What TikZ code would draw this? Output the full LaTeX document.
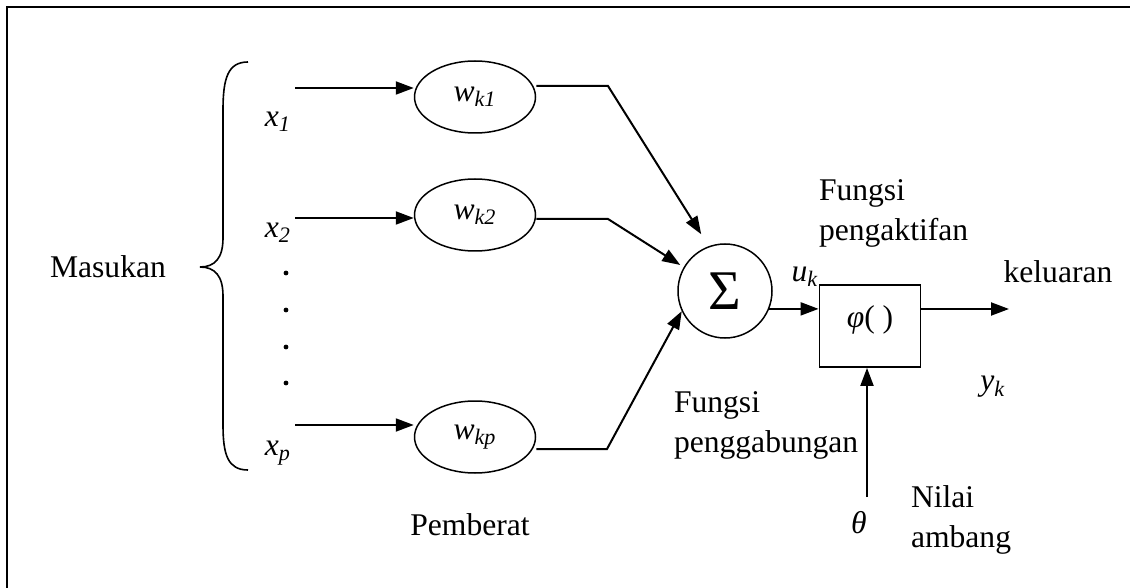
\documentclass[tikz,border=0pt]{standalone}
\usepackage{fontspec}
\setmainfont{Liberation Serif}
\usetikzlibrary{arrows.meta,shapes.geometric}

% italic symbol with italic subscript
\newcommand{\isub}[2]{\textit{#1}\textsubscript{\textit{#2}}}

\begin{document}
\begin{tikzpicture}[x=0.5pt, y=-0.5pt, line width=1pt,
  >={Triangle[length=9pt,width=6.5pt]},
  every node/.style={font=\fontsize{15.8}{20}\selectfont},
  weight/.style={draw, line width=0.75pt, ellipse, minimum width=60.5pt, minimum height=36pt, inner sep=0pt},
  sumnode/.style={draw, line width=0.75pt, circle, minimum size=47pt, inner sep=0pt, font=\fontsize{28}{30}\selectfont},
  actbox/.style={draw, line width=0.9pt, minimum width=50.5pt, minimum height=41pt, inner sep=0pt},
  note/.style={anchor=west, align=left, inner sep=0pt}]
  \useasboundingbox (0,0) rectangle (1130,588);
  % frame
  \draw[line width=1.1pt] (1130,7) -- (7,7) -- (7,588);
  % input brace
  \draw[line width=0.8pt] (248,62) .. controls (228,62) and (223,78) .. (223,110) -- (223,238)
    .. controls (223,258) and (215,267) .. (200,267)
    .. controls (215,267) and (223,276) .. (223,296) -- (223,425)
    .. controls (223,455) and (228,470) .. (248,470);
  \node (masukan) at (108,267) {Masukan};
  % inputs
  \coordinate (in1) at (295,88);
  \coordinate (in2) at (295,218);
  \coordinate (inp) at (295,425);
  \node (x1) at (278,122) {\isub{x}{1}};
  \node (x2) at (278,233) {\isub{x}{2}};
  \node (xp) at (278,453) {\isub{x}{p}};
  \foreach \y in {273,310,347,383}
    \fill (286,\y) circle (1.2pt);
  % weights
  \node[weight] (w1) at (475,97) {\isub{w}{k1}};
  \node[weight] (w2) at (475,215) {\isub{w}{k2}};
  \node[weight] (wp) at (475,437) {\isub{w}{kp}};
  \node (pemberat) at (470,525) {Pemberat};
  \draw[->] (in1) -- (in1 -| w1.west);
  \draw[->] (in2) -- (in2 -| w2.west);
  \draw[->] (inp) -- (inp -| wp.west);
  % summing junction
  \node[sumnode] (sum) at (725,291) {Σ};
  \coordinate (b1) at (608,86);
  \coordinate (b2) at (608,219);
  \coordinate (bp) at (607,449);
  \draw[->, shorten >=7pt] (b1 -| w1.east) -- (b1) -- (sum.110);
  \draw[->, shorten >=2pt] (b2 -| w2.east) -- (b2) -- (sum.150);
  \draw[->] (bp -| wp.east) -- (bp) -- (sum.205);
  \node[note] (fgab) at (673,425) {Fungsi\\penggabungan};
  % activation
  \node[actbox] (phi) at (870,326) {};
  \node (phitxt) at (870,320) {\textit{φ}( )};
  \node[note] (fakt) at (818,213) {Fungsi\\pengaktifan};
  \draw[->] (sum.-22) -- (sum.-22 -| phi.west);
  \node (uk) at (805,277) {\isub{u}{k}};
  % output
  \coordinate (out) at (1009,309);
  \draw[->] (out -| phi.east) -- (out);
  \node (keluaran) at (1058,272) {keluaran};
  \node (yk) at (993,387) {\isub{y}{k}};
  % threshold
  \coordinate (thr) at (867,497);
  \draw[->] (thr) -- (thr |- phi.south);
  \node (theta) at (859,523) {\textit{θ}};
  \node[note] (ambang) at (910,520) {Nilai\\ambang};
\end{tikzpicture}
\end{document}
